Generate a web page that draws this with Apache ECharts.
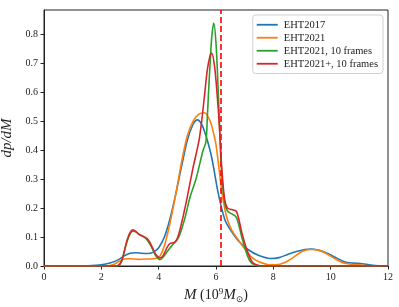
<!DOCTYPE html>
<html>
<head>
<meta charset="utf-8">
<script src="https://cdn.jsdelivr.net/npm/echarts@6/dist/echarts.min.js"></script>
<style>html,body{margin:0;padding:0;background:#fff}#c{width:399px;height:307px}</style>
</head>
<body>
<div id="c"></div>
<script>
var seriesNames = ["EHT2017", "EHT2021", "EHT2021, 10 frames", "EHT2021+, 10 frames"];
var xTicks = [0, 2, 4, 6, 8, 10, 12];
var yTicks = [0.0, 0.1, 0.2, 0.3, 0.4, 0.5, 0.6, 0.7, 0.8];
var markerMass = 6.17;

var eht2017X = [0, 1.0, 1.5, 2.0, 2.3, 2.6, 2.8, 3.0, 3.2, 3.4, 3.6, 3.8, 4.0, 4.2, 4.4, 4.6, 4.8, 5.0, 5.2, 5.35, 5.5, 5.65, 5.85, 6.08, 6.31, 6.55, 6.8, 7.1, 7.5, 7.9, 8.2, 8.5, 8.8, 9.1, 9.3, 9.6, 9.9, 10.2, 10.5, 10.8, 11.1, 11.4, 11.8];
var eht2017Y = [0, 0, 0.001, 0.004, 0.01, 0.022, 0.035, 0.044, 0.046, 0.044, 0.043, 0.047, 0.063, 0.10, 0.165, 0.25, 0.345, 0.435, 0.49, 0.505, 0.49, 0.45, 0.375, 0.25, 0.16, 0.118, 0.085, 0.058, 0.036, 0.026, 0.029, 0.04, 0.05, 0.057, 0.059, 0.054, 0.043, 0.028, 0.014, 0.01, 0.008, 0.003, 0];

var eht2021X = [0, 2.2, 2.4, 2.6, 2.8, 3.0, 3.3, 3.6, 3.9, 4.05, 4.2, 4.4, 4.6, 4.8, 5.0, 5.2, 5.4, 5.6, 5.8, 5.9, 6.0, 6.1, 6.2, 6.3, 6.4, 6.55, 6.8, 7.0, 7.25, 7.5, 7.9, 8.1, 8.4, 8.7, 9.0, 9.3, 9.5, 9.8, 10.1, 10.4, 10.7, 11.0, 11.3, 11.6];
var eht2021Y = [0, 0, 0.004, 0.015, 0.024, 0.025, 0.023, 0.024, 0.026, 0.035, 0.07, 0.15, 0.25, 0.36, 0.45, 0.50, 0.525, 0.53, 0.50, 0.465, 0.42, 0.34, 0.26, 0.20, 0.16, 0.124, 0.087, 0.06, 0.03, 0.015, 0.004, 0.004, 0.012, 0.03, 0.05, 0.057, 0.056, 0.046, 0.028, 0.012, 0.006, 0.004, 0.001, 0];

var eht2021fX = [0, 2.55, 2.65, 2.75, 2.85, 3.0, 3.1, 3.2, 3.35, 3.5, 3.6, 3.7, 3.8, 3.9, 4.0, 4.05, 4.15, 4.3, 4.5, 4.7, 4.9, 5.1, 5.3, 5.45, 5.55, 5.65, 5.7, 5.75, 5.8, 5.85, 5.92, 6.0, 6.08, 6.14, 6.2, 6.3, 6.4, 6.55, 6.7, 6.8, 6.9, 7.0, 7.1, 7.2, 7.35, 7.5, 12];
var eht2021fY = [0, 0, 0.005, 0.03, 0.07, 0.11, 0.12, 0.118, 0.108, 0.10, 0.09, 0.075, 0.055, 0.035, 0.024, 0.022, 0.03, 0.05, 0.075, 0.10, 0.16, 0.24, 0.30, 0.36, 0.40, 0.43, 0.52, 0.62, 0.71, 0.79, 0.84, 0.77, 0.60, 0.44, 0.32, 0.22, 0.19, 0.18, 0.17, 0.14, 0.10, 0.065, 0.035, 0.015, 0.003, 0, 0];

var eht2021pX = [0, 2.5, 2.6, 2.7, 2.8, 2.9, 3.0, 3.1, 3.2, 3.3, 3.4, 3.5, 3.6, 3.7, 3.8, 3.9, 4.0, 4.05, 4.15, 4.3, 4.4, 4.5, 4.6, 4.7, 4.85, 5.0, 5.2, 5.4, 5.5, 5.6, 5.7, 5.8, 5.85, 5.95, 6.05, 6.12, 6.2, 6.3, 6.4, 6.55, 6.7, 6.8, 6.9, 7.0, 7.1, 7.2, 7.3, 7.5, 7.7, 12];
var eht2021pY = [0, 0, 0.003, 0.015, 0.05, 0.09, 0.115, 0.125, 0.12, 0.11, 0.105, 0.10, 0.095, 0.08, 0.06, 0.04, 0.03, 0.028, 0.035, 0.065, 0.078, 0.08, 0.085, 0.11, 0.17, 0.24, 0.34, 0.43, 0.50, 0.59, 0.68, 0.73, 0.735, 0.69, 0.58, 0.48, 0.34, 0.23, 0.20, 0.195, 0.19, 0.16, 0.115, 0.08, 0.05, 0.025, 0.01, 0.002, 0, 0];

var colors = ["#1f77b4", "#ff7f0e", "#2ca02c", "#d62728"];
function pairs(xs, ys) { return xs.map(function (x, i) { return [x, ys[i]]; }); }
var dataSets = [pairs(eht2017X, eht2017Y), pairs(eht2021X, eht2021Y), pairs(eht2021fX, eht2021fY), pairs(eht2021pX, eht2021pY)];

var serif = "'Liberation Serif', 'DejaVu Serif', serif";
var chart = echarts.init(document.getElementById('c'), null, { renderer: 'canvas' });
var series = dataSets.map(function (d, i) {
  return {
    name: seriesNames[i], type: 'line', data: d, smooth: 0.3, symbol: 'none',
    lineStyle: { color: colors[i], width: 1.6 }, itemStyle: { color: colors[i] },
    z: 2 + i, animation: false
  };
});
series.push({
  type: 'line', data: [], animation: false, silent: true,
  markLine: {
    silent: true, symbol: ['none', 'none'], label: { show: false },
    lineStyle: { color: '#ff0000', type: [6, 3], width: 1.6 },
    data: [{ xAxis: markerMass }], animation: false
  }
});
chart.setOption({
  animation: false,
  backgroundColor: '#fff',
  grid: { left: 44, right: 11, top: 10, bottom: 41, show: true, borderColor: '#222', borderWidth: 1, backgroundColor: 'transparent', containLabel: false, outerBoundsMode: 'none' },
  legend: {
    data: seriesNames, orient: 'vertical', right: 16, top: 15,
    icon: 'rect', itemWidth: 21, itemHeight: 1.8, itemGap: 1.5,
    backgroundColor: 'rgba(255,255,255,0.85)', borderColor: '#d0d0d0', borderWidth: 1, borderRadius: 3,
    padding: [4, 5, 4, 4],
    textStyle: { fontFamily: serif, fontSize: 10.5, color: '#222', lineHeight: 11.5, padding: [0, 0, 0, 1] }
  },
  xAxis: {
    type: 'value', min: xTicks[0], max: xTicks[xTicks.length - 1], interval: 2,
    axisLine: { show: true, lineStyle: { color: '#222', width: 1 } },
    axisTick: { show: true, inside: false, length: 3.5, lineStyle: { color: '#222' } },
    splitLine: { show: false },
    axisLabel: { fontFamily: serif, fontSize: 10, color: '#222', margin: 6 },
    name: '{i|M} (10{sup|9}{i|M}{sub|⊙})', nameLocation: 'middle', nameGap: 16,
    nameTextStyle: {
      fontFamily: serif, fontSize: 14, color: '#222',
      rich: {
        i: { fontFamily: serif, fontStyle: 'italic', fontSize: 15, color: '#222' },
        sup: { fontFamily: serif, fontSize: 9, color: '#222', verticalAlign: 'top', padding: [0, 0, 8, 0] },
        sub: { fontFamily: serif, fontSize: 9, color: '#222', verticalAlign: 'bottom', padding: [6, 0, 0, 0] }
      }
    }
  },
  yAxis: {
    type: 'value', min: 0, max: 0.885, interval: 0.1,
    axisLine: { show: true, lineStyle: { color: '#222', width: 1 } },
    axisTick: { show: true, inside: false, length: 3.5, lineStyle: { color: '#222' } },
    splitLine: { show: false },
    axisLabel: {
      fontFamily: serif, fontSize: 10, color: '#222', margin: 6, showMaxLabel: false,
      formatter: function (v) { return yTicks.some(function (t) { return Math.abs(t - v) < 1e-6; }) ? v.toFixed(1) : ''; }
    },
    name: 'dp/dM', nameLocation: 'middle', nameGap: 24, nameRotate: 90,
    nameTextStyle: { fontFamily: serif, fontStyle: 'italic', fontSize: 15, color: '#222' }
  },
  series: series
});
</script>
</body>
</html>
